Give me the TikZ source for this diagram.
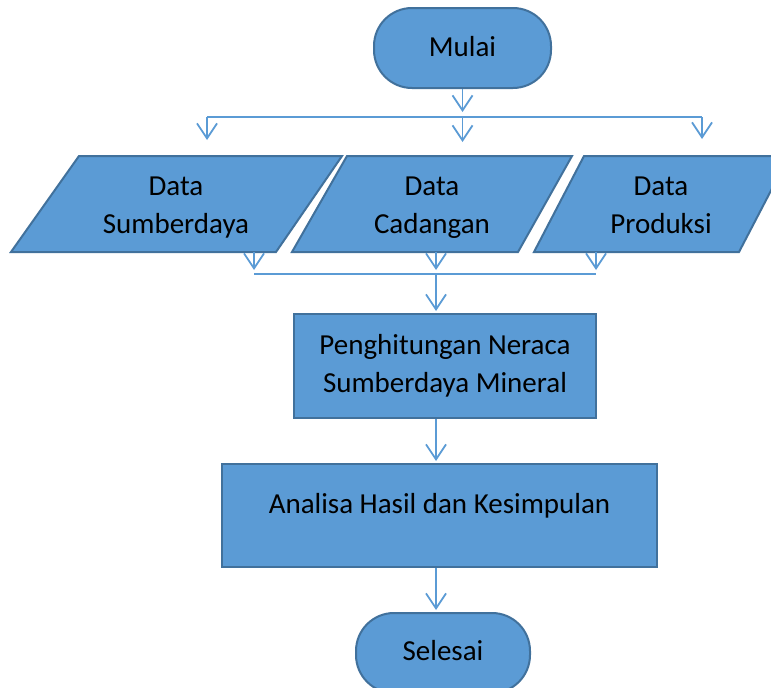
\documentclass[tikz,border=0pt]{standalone}
\usepackage{fontspec}
\setmainfont{Carlito}
\usetikzlibrary{arrows.meta}
\definecolor{fillblue}{HTML}{5B9BD5}
\definecolor{edgeblue}{HTML}{41719C}
\definecolor{arrowblue}{HTML}{5B9BD5}
\begin{document}
\begin{tikzpicture}[x=1pt,y=-1pt,
  shapebox/.style={draw=edgeblue, fill=fillblue, line width=2pt, inner sep=0pt},
  termbox/.style={shapebox, rounded corners=38pt},
  txt/.style={font=\fontsize{29}{38}\selectfont, align=center, inner sep=0pt, text=black},
  ln/.style={draw=arrowblue, line width=1.8pt},
  arr/.style={ln, -{Straight Barb[length=15pt,width=20pt]}}]
\useasboundingbox (0,0) rectangle (771,688);
\clip (0,0) rectangle (771,688);
\fill[white] (0,0) rectangle (771,688);

% start
\node[termbox, minimum width=177pt, minimum height=80pt] (mulai) at (462.5,48) {};
\node[txt, anchor=base] (mulaitxt) at (462.5,56) {Mulai};

% data parallelograms
\draw[shapebox] (79,156) -- (342,156) -- (276,252) -- (11,252) -- cycle;
\draw[shapebox] (347,156) -- (572,156) -- (518,252) -- (292,252) -- cycle;
\draw[shapebox] (584,156) -- (789,156) -- (739,252) -- (534,252) -- cycle;
\node[txt, anchor=north] (d1) at (176,176.3) {Data\\Sumberdaya};
\node[txt, anchor=north] (d2) at (432,176.3) {Data\\Cadangan};
\node[txt, anchor=north] (d3) at (661,176.3) {Data\\Produksi};

% process boxes
\node[shapebox, minimum width=302pt, minimum height=104pt] (box1) at (445,366) {};
\node[txt] (box1txt) at (445,366) {Penghitungan Neraca\\Sumberdaya Mineral};
\node[shapebox, minimum width=435pt, minimum height=103pt] (box2) at (439.5,515.5) {};
\node[txt, anchor=base] (box2txt) at (439.5,513) {Analisa Hasil dan Kesimpulan};

% end
\node[termbox, minimum width=174pt, minimum height=80pt] (selesai) at (443,653) {};
\node[txt, anchor=base] (selesaitxt) at (443,660) {Selesai};

% fan out
\coordinate (mtip) at (462.5,112);
\coordinate (fanL) at (207,117);
\coordinate (fanC) at (462.5,117);
\coordinate (fanR) at (702,117);
\coordinate (tipL) at (207,140);
\coordinate (tipC) at (462.5,142);
\coordinate (tipR) at (702,139);
\draw[arr] (mulai.south) -- (mtip);
\draw[ln] (fanL) -- (fanR);
\draw[arr] (fanL) -- (tipL);
\draw[arr] (fanC) -- (tipC);
\draw[arr] (fanR) -- (tipR);

% merge
\coordinate (o1) at (254,252);
\coordinate (o2) at (436,252);
\coordinate (o3) at (596,252);
\coordinate (t1) at (254,270);
\coordinate (t2) at (436,270);
\coordinate (t3) at (596,270);
\coordinate (mL) at (254,274);
\coordinate (mC) at (436,274);
\coordinate (mR) at (596,274);
\draw[arr] (o1) -- (t1);
\draw[arr] (o2) -- (t2);
\draw[arr] (o3) -- (t3);
\draw[ln] (mL) -- (mR);
\draw[arr, shorten >=2pt] (mC) -- (box1.north -| mC);

% flow down
\draw[arr, shorten >=2pt] (box1.south -| mC) -- (box2.north -| mC);
\draw[arr, shorten >=2pt] (box2.south -| mC) -- (selesai.north -| mC);
\end{tikzpicture}
\end{document}
